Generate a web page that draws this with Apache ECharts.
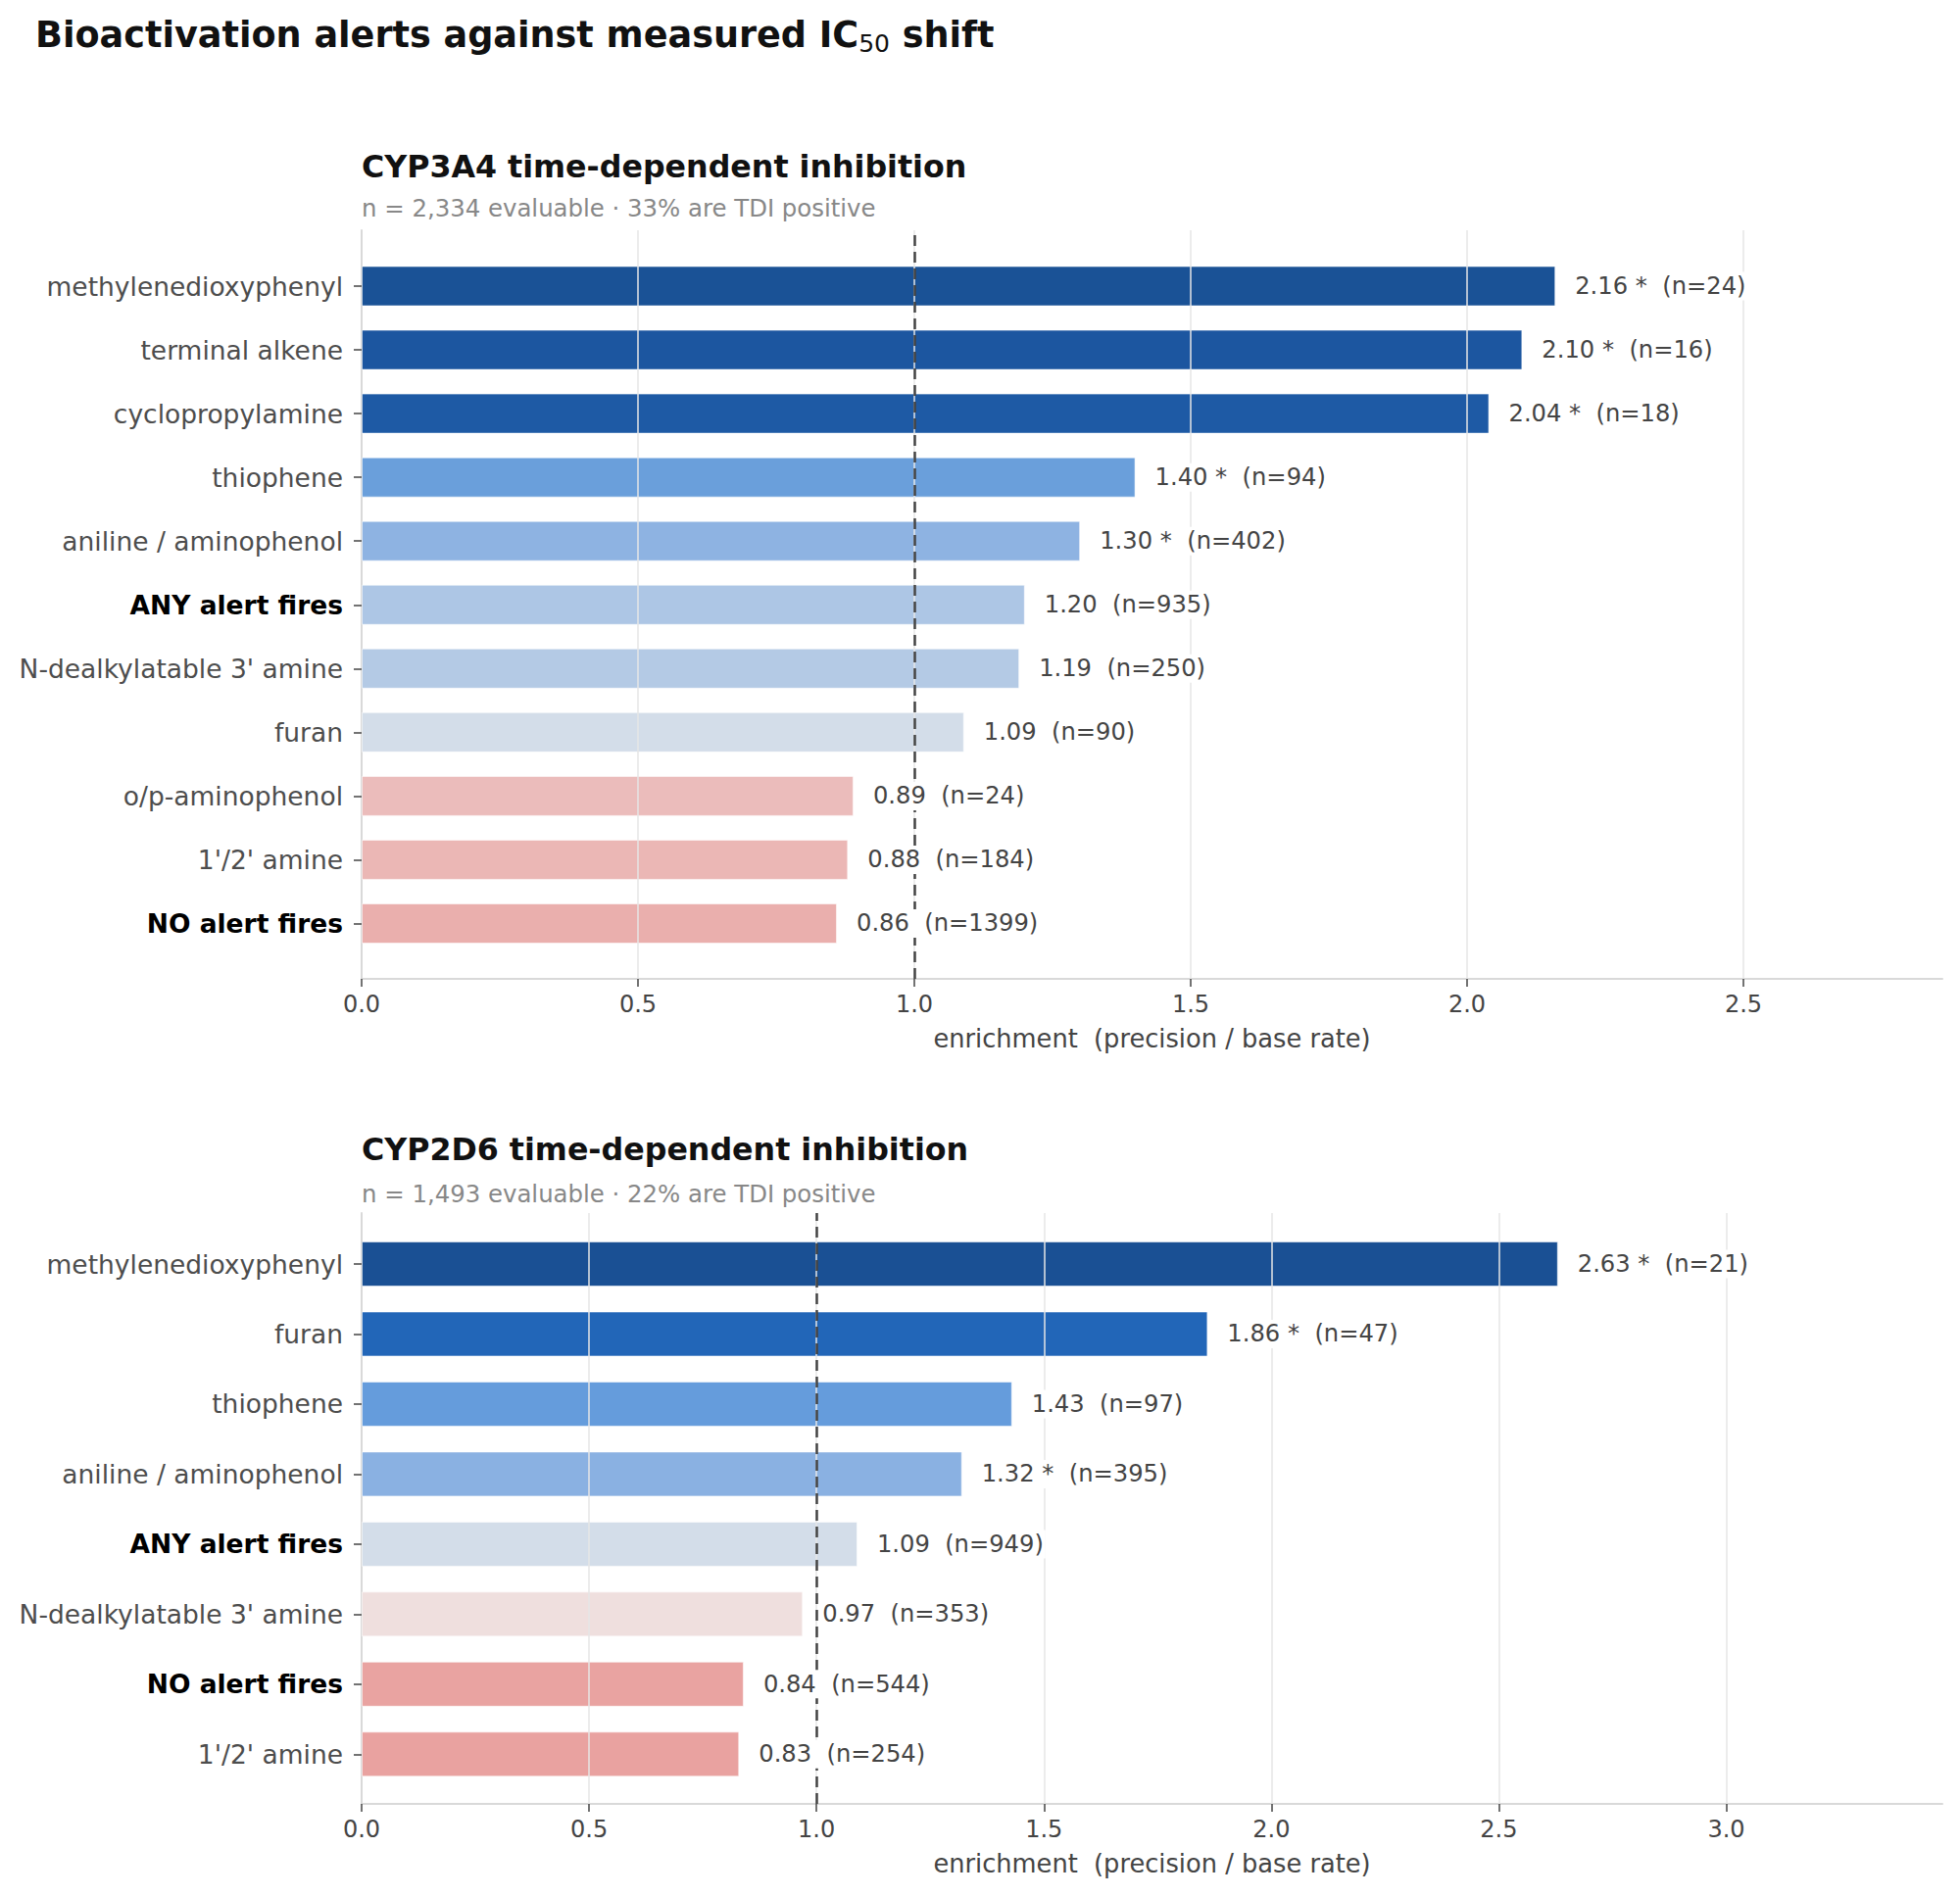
<!DOCTYPE html>
<html>
<head>
<meta charset="utf-8">
<title>Bioactivation alerts against measured IC50 shift</title>
<script src="https://cdn.jsdelivr.net/npm/echarts@6.0.0/dist/echarts.min.js"></script>
<style>
  html, body { margin: 0; padding: 0; background: #fff; }
  #chart { width: 2000px; height: 1935px; }
</style>
</head>
<body>
<div id="chart"></div>
<script>
// CYP3A4 panel
const cyp3a4Labels = [
  "methylenedioxyphenyl", "terminal alkene", "cyclopropylamine", "thiophene",
  "aniline / aminophenol", "ANY alert fires", "N-dealkylatable 3' amine", "furan",
  "o/p-aminophenol", "1'/2' amine", "NO alert fires"
];
const cyp3a4Values = [2.16, 2.10, 2.04, 1.40, 1.30, 1.20, 1.19, 1.09, 0.89, 0.88, 0.86];
const cyp3a4N = [24, 16, 18, 94, 402, 935, 250, 90, 24, 184, 1399];
const cyp3a4Sig = [true, true, true, true, true, false, false, false, false, false, false];
const cyp3a4Ticks = [0, 0.5, 1.0, 1.5, 2.0, 2.5];

// CYP2D6 panel
const cyp2d6Labels = [
  "methylenedioxyphenyl", "furan", "thiophene", "aniline / aminophenol",
  "ANY alert fires", "N-dealkylatable 3' amine", "NO alert fires", "1'/2' amine"
];
const cyp2d6Values = [2.63, 1.86, 1.43, 1.32, 1.09, 0.97, 0.84, 0.83];
const cyp2d6N = [21, 47, 97, 395, 949, 353, 544, 254];
const cyp2d6Sig = [true, true, false, true, false, false, false, false];
const cyp2d6Ticks = [0, 0.5, 1.0, 1.5, 2.0, 2.5, 3.0];

// bar colours (diverging blue / red by enrichment)
const cyp3a4Colors = ["#1a5296", "#1c56a0", "#1e5aa5", "#6a9fdb", "#8eb3e2", "#adc6e5",
  "#b4cae5", "#d3dde9", "#ebbcbb", "#ebb7b5", "#eaafad"];
const cyp2d6Colors = ["#1a5094", "#2266b8", "#659cdc", "#8ab1e2", "#d3dde9",
  "#efdfde", "#e9a3a1", "#e9a2a0"];

const FONT = "DejaVu Sans";
const chart = echarts.init(document.getElementById("chart"), null, { renderer: "svg" });

const grids = [];
const xAxes = [];
const yAxes = [];
const series = [];

function addPanel(p) {
  const frameIdx = grids.length;
  const barIdx = frameIdx + 1;

  // frame grid: spines, ticks, gridlines, reference line
  grids.push({ left: 369, right: 18, top: p.frameTop, height: p.frameHeight });
  // bar grid: category bands
  grids.push({ left: 369, right: 18, top: p.barTop, height: p.barHeight });

  xAxes.push({
    gridIndex: frameIdx, type: "value", min: 0, max: p.max,
    axisLine: { show: true, lineStyle: { color: "#d9d9d9", width: 2 } },
    axisTick: { show: true, length: 8, customValues: p.ticks, lineStyle: { color: "#444", width: 1.5 } },
    axisLabel: {
      customValues: p.ticks, margin: 14, color: "#444", fontSize: 24, fontFamily: FONT,
      formatter: v => v.toFixed(1)
    },
    splitLine: { show: false },
    name: "enrichment\u00a0\u00a0(precision / base rate)",
    nameLocation: "middle", nameGap: 48,
    nameTextStyle: { color: "#444", fontSize: 25.7, fontFamily: FONT }
  });
  xAxes.push({ gridIndex: barIdx, type: "value", min: 0, max: p.max, show: false });

  yAxes.push({
    gridIndex: frameIdx, type: "value", min: 0, max: 1,
    axisLine: { show: true, lineStyle: { color: "#d9d9d9", width: 2 } },
    axisTick: { show: false }, axisLabel: { show: false }, splitLine: { show: false }
  });
  yAxes.push({
    gridIndex: barIdx, type: "category", inverse: true, data: p.labels,
    axisLine: { show: false },
    axisTick: { show: true, alignWithLabel: true, length: 8, lineStyle: { color: "#444", width: 1.5 } },
    axisLabel: {
      margin: 19, fontFamily: FONT,
      formatter: v => (v.startsWith("ANY") || v.startsWith("NO ")) ? "{b|" + v + "}" : "{n|" + v + "}",
      rich: {
        b: { fontSize: 26.5, fontWeight: "bold", color: "#000", fontFamily: FONT },
        n: { fontSize: 26.5, color: "#4d4d4d", fontFamily: FONT }
      }
    }
  });

  // coloured bars (below gridlines)
  series.push({
    type: "bar", xAxisIndex: barIdx, yAxisIndex: barIdx, z: 2,
    barWidth: p.barWidth, barGap: "-100%",
    data: p.values.map((v, i) => ({
      value: v,
      itemStyle: { color: p.colors[i], borderColor: "rgba(255,255,255,0.55)", borderWidth: 1 }
    })),
    silent: true
  });

  // gridlines above bars, then dashed line at enrichment = 1
  series.push({
    type: "line", xAxisIndex: frameIdx, yAxisIndex: frameIdx, z: 5, data: [],
    silent: true,
    markLine: {
      silent: true, symbol: ["none", "none"], label: { show: false },
      lineStyle: { color: "#e6e6e6", width: 1.5, type: "solid" },
      data: p.ticks.slice(1).map(t => ({ xAxis: t })).concat([
        { xAxis: 1, lineStyle: { color: "#444", width: 2.5, type: [11, 6] } }
      ])
    }
  });

  // value labels on white boxes, above the lines
  series.push({
    type: "bar", xAxisIndex: barIdx, yAxisIndex: barIdx, z: 8,
    barWidth: p.barWidth, barGap: "-100%",
    data: p.values,
    itemStyle: { color: "rgba(0,0,0,0)" },
    label: {
      show: true, position: "right", distance: 18,
      color: "#444", fontSize: 24.2, fontFamily: FONT,
      backgroundColor: "#fff", padding: [2, 2], lineHeight: 25,
      formatter: d => d.value.toFixed(2) + (p.sig[d.dataIndex] ? " *" : "") +
        "\u00a0\u00a0(n=" + p.n[d.dataIndex] + ")"
    },
    silent: true
  });
}

addPanel({
  labels: cyp3a4Labels, values: cyp3a4Values, n: cyp3a4N, sig: cyp3a4Sig,
  colors: cyp3a4Colors, ticks: cyp3a4Ticks, max: 2.86,
  frameTop: 235, frameHeight: 764, barTop: 259.5, barHeight: 715.5, barWidth: 41
});
addPanel({
  labels: cyp2d6Labels, values: cyp2d6Values, n: cyp2d6N, sig: cyp2d6Sig,
  colors: cyp2d6Colors, ticks: cyp2d6Ticks, max: 3.475,
  frameTop: 1238, frameHeight: 603, barTop: 1254.3, barHeight: 571.7, barWidth: 46
});

const option = {
  animation: false,
  backgroundColor: "#fff",
  textStyle: { fontFamily: FONT },
  grid: grids,
  xAxis: xAxes,
  yAxis: yAxes,
  series: series,
  graphic: [
    {
      type: "text", x: 36, y: 35,
      style: {
        text: "{a|Bioactivation alerts against measured IC}{s|50}{a| shift}",
        verticalAlign: "middle", fill: "#111",
        rich: {
          a: { fontSize: 36.6, fontWeight: "bold", fontFamily: FONT, lineHeight: 44, fill: "#111" },
          s: { fontSize: 25, fontWeight: "normal", fontFamily: FONT, lineHeight: 26, verticalAlign: "bottom", fill: "#111" }
        }
      }
    },
    {
      type: "text", x: 369, y: 170,
      style: { text: "CYP3A4 time-dependent inhibition", font: "bold 31.7px '" + FONT + "'", fill: "#111", verticalAlign: "middle" }
    },
    {
      type: "text", x: 369, y: 212,
      style: { text: "n = 2,334 evaluable \u00b7 33% are TDI positive", font: "24.4px '" + FONT + "'", fill: "#888", verticalAlign: "middle" }
    },
    {
      type: "text", x: 369, y: 1173,
      style: { text: "CYP2D6 time-dependent inhibition", font: "bold 31.7px '" + FONT + "'", fill: "#111", verticalAlign: "middle" }
    },
    {
      type: "text", x: 369, y: 1218,
      style: { text: "n = 1,493 evaluable \u00b7 22% are TDI positive", font: "24.4px '" + FONT + "'", fill: "#888", verticalAlign: "middle" }
    }
  ]
};

chart.setOption(option);
</script>
</body>
</html>
